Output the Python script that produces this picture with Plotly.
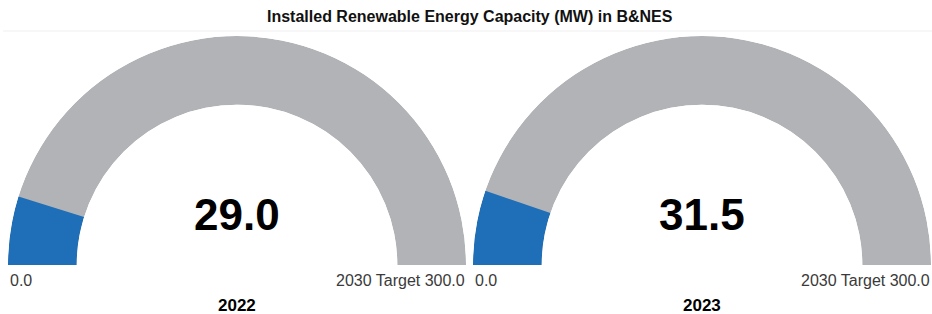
import plotly.graph_objects as go

title = "Installed Renewable Energy Capacity (MW) in B&NES"
years = ["2022", "2023"]
values = [29.0, 31.5]
target = 300.0
min_label = "0.0"
target_label = "2030 Target 300.0"

BLUE = "#1F6EB8"
GRAY = "#B1B3B6"
FONT = "Liberation Sans, Arial, sans-serif"

W, H = 932, 314
centers_px = [237, 702]
R = 229
base_y = 265

fig = go.Figure()
layout_polars = {}
annotations = []
for i, (yr, v) in enumerate(zip(years, values)):
    key = "polar" if i == 0 else f"polar{i+1}"
    cx = centers_px[i]
    dom_x = [(cx - R) / W, (cx + R) / W]
    dom_y = [(H - base_y) / H, (H - base_y + R) / H]
    deg = v / target * 180.0
    fig.add_trace(go.Barpolar(r=[1], theta=[90], width=[180], base=0,
                              marker=dict(color=GRAY, line=dict(width=0)),
                              subplot=key, hoverinfo="skip", showlegend=False))
    fig.add_trace(go.Barpolar(r=[1], theta=[deg / 2], width=[deg], base=0,
                              marker=dict(color=BLUE, line=dict(width=0)),
                              subplot=key, hoverinfo="skip", showlegend=False))
    layout_polars[key] = dict(
        domain=dict(x=dom_x, y=dom_y),
        sector=[0, 180], hole=0.70, bgcolor="rgba(0,0,0,0)",
        radialaxis=dict(range=[0, 1], visible=False, showgrid=False),
        angularaxis=dict(rotation=180, direction="clockwise", visible=False,
                         showgrid=False, showline=False, showticklabels=False, ticks=""),
    )
    annotations.append(dict(x=cx / W, y=(H - 214) / H, xref="paper", yref="paper",
                            text=f"<b>{v:.1f}</b>", showarrow=False,
                            font=dict(family=FONT, size=44, color="#000000"),
                            xanchor="center", yanchor="middle"))
    annotations.append(dict(x=(cx - R) / W, y=(H - 280) / H, xref="paper", yref="paper",
                            text=min_label, showarrow=False,
                            font=dict(family=FONT, size=16, color="#3A3A3A"),
                            xanchor="left", yanchor="middle"))
    annotations.append(dict(x=(cx + R + 1) / W, y=(H - 280) / H, xref="paper", yref="paper",
                            text=target_label, showarrow=False,
                            font=dict(family=FONT, size=16, color="#3A3A3A"),
                            xanchor="right", yanchor="middle"))
    annotations.append(dict(x=cx / W, y=(H - 305) / H, xref="paper", yref="paper",
                            text=f"<b>{yr}</b>", showarrow=False,
                            font=dict(family=FONT, size=17, color="#000000"),
                            xanchor="center", yanchor="middle"))

annotations.append(dict(x=470 / W, y=(H - 17) / H, xref="paper", yref="paper",
                        text=f"<b>{title}</b>", showarrow=False,
                        font=dict(family=FONT, size=16, color="#111111"),
                        xanchor="center", yanchor="middle"))

fig.update_layout(
    width=W, height=H,
    margin=dict(l=0, r=0, t=0, b=0),
    paper_bgcolor="white", plot_bgcolor="white",
    annotations=annotations,
    shapes=[dict(type="line", xref="paper", yref="paper", x0=3 / W, x1=1, y0=(H - 31) / H, y1=(H - 31) / H,
                 line=dict(color="#EFEFEF", width=1))],
    **layout_polars,
)
fig.write_html("out.html", config={"displayModeBar": False},
               post_script="document.body.style.margin='0';document.body.style.overflow='hidden';")
